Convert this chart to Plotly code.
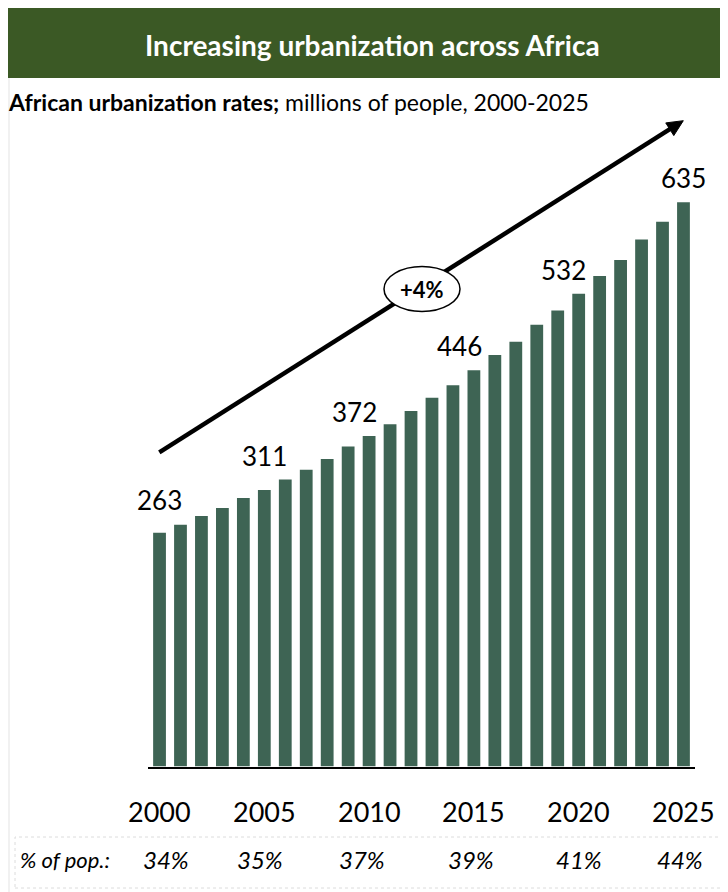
import plotly.graph_objects as go

# ---------------- data ----------------
years = list(range(2000, 2026))
urban_millions = [263, 272, 282, 291, 302, 311, 323, 334, 346, 360,
                  372, 385, 400, 415, 429, 446, 463, 478, 497, 513,
                  532, 552, 570, 593, 613, 635]
labelled_years = [2000, 2005, 2010, 2015, 2020, 2025]
pct_of_pop = ["34%", "35%", "37%", "39%", "41%", "44%"]
cagr_label = "+4%"
title_text = "Increasing urbanization across Africa"
subtitle_bold = "African urbanization rates;"
subtitle_rest = " millions of people, 2000-2025"
pct_row_label = "% of pop.:"

# ---------------- styling ----------------
OFF = 8                      # page body margin in the browser
W, H = 720, 884
FONT = "Lato"
BAR_COLOR = "#3e6454"
HEADER_COLOR = "#3b5925"


def px(x):
    return (x - OFF) / W


def py(y):
    return 1 - (y - OFF) / H


# plot area in (window) pixels
PL, PR, PT, PB = 148, 695, 100, 766.5
y_max = 750
x_idx = list(range(len(years)))

fig = go.Figure()
fig.add_trace(go.Bar(
    x=x_idx, y=urban_millions,
    marker=dict(color=BAR_COLOR, line=dict(width=0)),
    hoverinfo="skip",
))

layout_shapes = []
# header bar
layout_shapes.append(dict(type="rect", xref="paper", yref="paper",
                          x0=px(6), x1=px(730), y0=py(78), y1=py(5),
                          fillcolor=HEADER_COLOR, line=dict(width=0), layer="below"))
# left border line
layout_shapes.append(dict(type="line", xref="paper", yref="paper",
                          x0=px(9), x1=px(9), y0=py(78), y1=py(895),
                          line=dict(color="#e3e3e3", width=1)))
# dotted box around % row
layout_shapes.append(dict(type="rect", xref="paper", yref="paper",
                          x0=px(15), x1=px(725), y0=py(888), y1=py(837),
                          line=dict(color="#dcdcdc", width=1, dash="dot")))

# growth arrow (decoration): tail and tip in pixels
tail = (159.3, 452.3)
tip = (683.3, 120.7)
dx, dy = tip[0] - tail[0], tip[1] - tail[1]
L = (dx ** 2 + dy ** 2) ** 0.5
ux, uy = dx / L, dy / L
nx, ny = -uy, ux
head_len, head_half = 16, 7.5
bx, by = tip[0] - head_len * ux, tip[1] - head_len * uy
layout_shapes.append(dict(type="line", xref="paper", yref="paper",
                          x0=px(tail[0]), y0=py(tail[1]),
                          x1=px(bx + 2 * ux), y1=py(by + 2 * uy),
                          line=dict(color="black", width=4.5)))
c1 = (bx + head_half * nx, by + head_half * ny)
c2 = (bx - head_half * nx, by - head_half * ny)
path = "M {} {} L {} {} L {} {} Z".format(px(tip[0]), py(tip[1]),
                                          px(c1[0]), py(c1[1]),
                                          px(c2[0]), py(c2[1]))
layout_shapes.append(dict(type="path", xref="paper", yref="paper", path=path,
                          fillcolor="black", line=dict(color="black", width=1)))
# ellipse for CAGR
layout_shapes.append(dict(type="circle", xref="paper", yref="paper",
                          x0=px(384), x1=px(460), y0=py(311.5), y1=py(266.5),
                          fillcolor="white", line=dict(color="black", width=1.5)))

annotations = []
annotations.append(dict(text="<b>" + title_text + "</b>", xref="paper", yref="paper",
                        x=px(372), y=py(45), xanchor="center", yanchor="middle",
                        showarrow=False, font=dict(family=FONT, size=28, color="white")))
annotations.append(dict(text="<b>" + subtitle_bold + "</b>" + subtitle_rest,
                        xref="paper", yref="paper", x=px(6), y=py(102),
                        xanchor="left", yanchor="middle", showarrow=False,
                        font=dict(family=FONT, size=23, color="black")))
annotations.append(dict(text="<b>" + cagr_label + "</b>", xref="paper", yref="paper",
                        x=px(422), y=py(289), xanchor="center", yanchor="middle",
                        showarrow=False, font=dict(family=FONT, size=22, color="black")))

# value labels over selected bars
label_xshift = {2010: -15, 2015: -14, 2020: -15}
label_gap = {2000: 22, 2005: 23}
for yr in labelled_years:
    i = years.index(yr)
    v = urban_millions[i]
    annotations.append(dict(text=str(v), x=i, y=v, xref="x", yref="y",
                            xanchor="center", yanchor="bottom", showarrow=False,
                            xshift=label_xshift.get(yr, 0),
                            yshift=label_gap.get(yr, 13) - 7,
                            font=dict(family=FONT, size=26, color="black")))

# year labels and % of population row
pct_xshift = {0: 6, 1: -4, 2: -7, 3: -3, 4: 0, 5: -3}
for k, yr in enumerate(labelled_years):
    i = years.index(yr)
    annotations.append(dict(text=str(yr), x=i, y=py(811), xref="x", yref="paper",
                            xanchor="center", yanchor="middle", showarrow=False,
                            font=dict(family=FONT, size=27, color="black")))
    annotations.append(dict(text="<i>" + pct_of_pop[k] + "</i>", x=i, y=py(859),
                            xref="x", yref="paper", xanchor="center", yanchor="middle",
                            showarrow=False, xshift=pct_xshift[k],
                            font=dict(family=FONT, size=24, color="black")))
annotations.append(dict(text="<i>" + pct_row_label + "</i>", x=px(18), y=py(859),
                        xref="paper", yref="paper", xanchor="left", yanchor="middle",
                        showarrow=False, font=dict(family=FONT, size=22, color="black")))

fig.update_layout(
    width=W, height=H,
    margin=dict(l=0, r=0, t=0, b=0),
    paper_bgcolor="white", plot_bgcolor="white",
    showlegend=False,
    bargap=0.39,
    xaxis=dict(domain=[px(PL), px(PR)], range=[-0.55, len(years) - 0.45],
               showticklabels=False, ticks="", showgrid=False, zeroline=False,
               showline=True, linecolor="black", linewidth=1.5),
    yaxis=dict(domain=[py(PB), py(PT)], range=[0, y_max], visible=False,
               showgrid=False, zeroline=False),
    shapes=layout_shapes,
    annotations=annotations,
)

fig.write_html("out.html")
